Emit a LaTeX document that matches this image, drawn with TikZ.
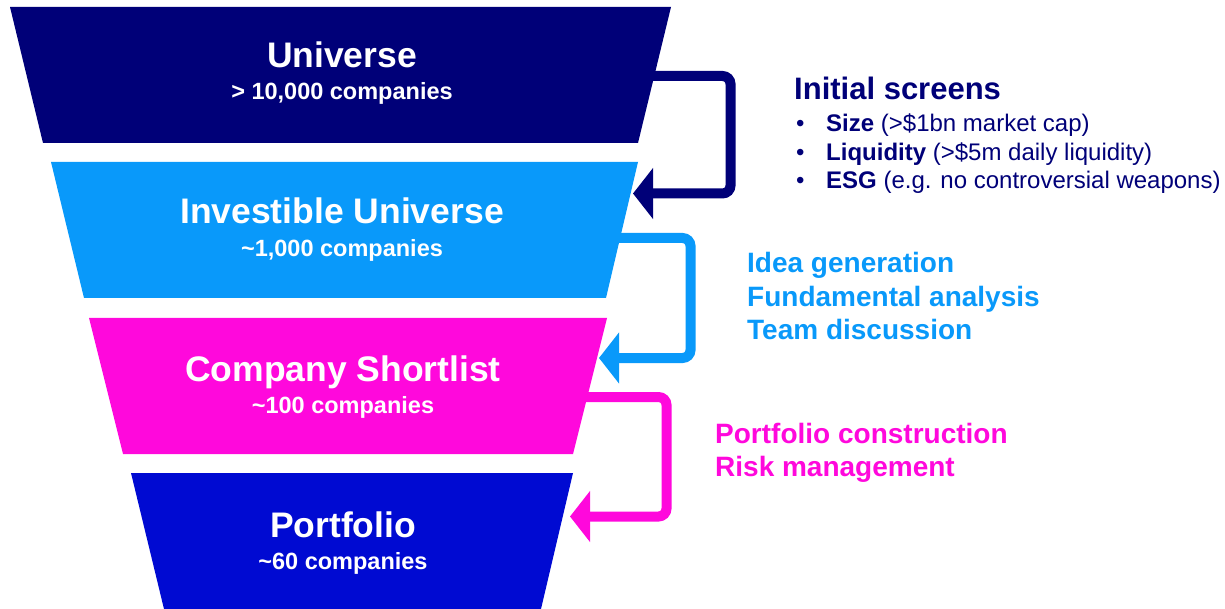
\documentclass[tikz,border=0pt]{standalone}
\usepackage{fontspec}
\setmainfont{Liberation Sans}
\usetikzlibrary{arrows.meta}
\definecolor{navyC}{RGB}{0,0,120}
\definecolor{cyanC}{RGB}{9,153,250}
\definecolor{magC}{RGB}{255,8,220}
\definecolor{blueC}{RGB}{0,10,210}
\begin{document}
\begin{tikzpicture}[x=1pt,y=-1pt,
  title/.style={anchor=base,text=white,font=\fontsize{35.5}{40}\selectfont\bfseries,inner sep=0},
  sub/.style={anchor=base,text=white,font=\fontsize{23.5}{28}\selectfont\bfseries,inner sep=0},
  flow/.style={line width=10pt,rounded corners=8pt,-{Triangle[length=20pt,width=50pt]}},
  side/.style={anchor=base west,inner sep=0,font=\fontsize{28}{33}\selectfont\bfseries},
  bul/.style={anchor=base west,inner sep=0,text=navyC,font=\fontsize{24}{28}\selectfont},
]
\useasboundingbox (0,0) rectangle (1225,609);
% connector coordinates
\coordinate (uOut) at (645,76);
\coordinate (k1) at (730.5,76);
\coordinate (k2) at (730.5,193.5);
\coordinate (iIn) at (633,193.5);
\coordinate (iOut) at (612,238);
\coordinate (k3) at (690.5,238);
\coordinate (k4) at (690.5,358);
\coordinate (cIn) at (599,358);
\coordinate (cOut) at (580,397);
\coordinate (k5) at (666.5,397);
\coordinate (k6) at (666.5,516.5);
\coordinate (pIn) at (570,516.5);
% connectors
\draw[flow,navyC] (uOut) -- (k1) -- (k2) -- (iIn);
\draw[flow,cyanC] (iOut) -- (k3) -- (k4) -- (cIn);
\draw[flow,magC] (cOut) -- (k5) -- (k6) -- (pIn);
% funnel
\fill[navyC] (10,7) -- (671,7) -- (638,143) -- (43,143) -- cycle;
\fill[cyanC] (51,162) -- (638,162) -- (606,298) -- (84,298) -- cycle;
\fill[magC] (89,318) -- (607,318) -- (573,454) -- (123,454) -- cycle;
\fill[blueC] (131,473) -- (573,473) -- (541,609) -- (164,609) -- cycle;
% funnel text
\node[title] (tU) at (342,68) {Universe};
\node[sub] (sU) at (342,99.5) {> 10,000 companies};
\node[title] (tI) at (342,224) {Investible Universe};
\node[sub] (sI) at (342,257) {\textasciitilde 1,000 companies};
\node[title] (tC) at (343,381) {Company Shortlist};
\node[sub] (sC) at (343,413) {\textasciitilde 100 companies};
\node[title] (tP) at (343,537) {Portfolio};
\node[sub] (sP) at (343,569) {\textasciitilde 60 companies};
% side text
\node[side,text=navyC,font=\fontsize{31}{36}\selectfont\bfseries] (scr) at (794,100) {Initial screens};
\node[bul] (d1) at (796,132) {•};
\node[bul] (b1) at (826,132) {\textbf{Size} (>\$1bn market cap)};
\node[bul] (d2) at (796,161) {•};
\node[bul] (b2) at (826,161) {\textbf{Liquidity} (>\$5m daily liquidity)};
\node[bul] (d3) at (796,189) {•};
\node[bul] (b3) at (826,189) {\textbf{ESG} (e.g. no controversial weapons)};
\node[side,text=cyanC] (c1) at (747,273) {Idea generation};
\node[side,text=cyanC] (c2) at (747,306) {Fundamental analysis};
\node[side,text=cyanC] (c3) at (747,339) {Team discussion};
\node[side,text=magC] (m1) at (715,443) {Portfolio construction};
\node[side,text=magC] (m2) at (715,476) {Risk management};
\end{tikzpicture}
\end{document}
